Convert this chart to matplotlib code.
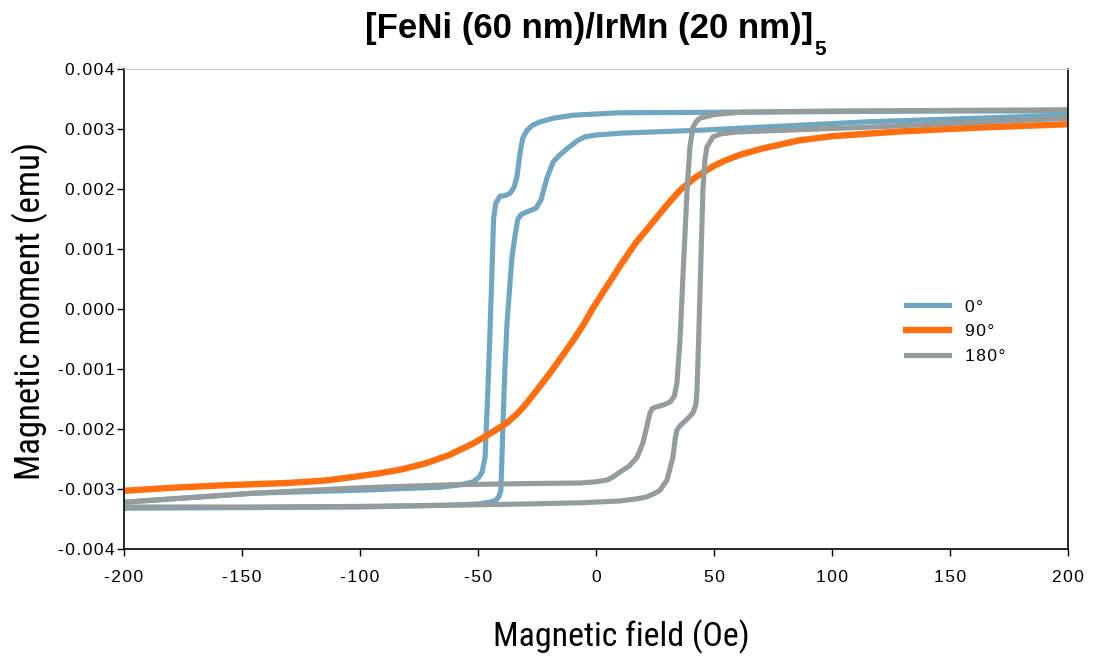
import matplotlib
matplotlib.use("Agg")
import matplotlib.pyplot as plt
from matplotlib import font_manager
from matplotlib.font_manager import FontProperties
from matplotlib.ticker import FuncFormatter

# 0 deg loop: descending branch (+200 -> -200) and ascending branch (-200 -> +200)
h_0_down = [200, 150, 100, 58, 10, -9.7, -18, -23.7, -27, -29.2, -31, -32.2, -33.5, -34.7,
            -36.4, -38.5, -40.7, -42.5, -43.4, -44.1, -44.9, -45.8, -47.0, -48.3, -49.5,
            -52, -57.6, -66, -100, -145, -200]
m_0_down = [0.00330, 0.00330, 0.00329, 0.00328, 0.00327, 0.00323, 0.00318, 0.00312, 0.00306,
            0.00298, 0.00285, 0.00260, 0.00220, 0.00203, 0.00193, 0.00189, 0.00188, 0.00176,
            0.00150, 0.00060, -0.00035, -0.00135, -0.00247, -0.00272, -0.00280, -0.00288,
            -0.00293, -0.00297, -0.00302, -0.00307, -0.00322]
h_0_up = [-200, -150, -100, -62, -50, -45, -42.5, -41.2, -40.3, -39.4, -38.6, -37.7, -35.6,
          -34.2, -33.1, -31.5, -29.2, -25.4, -23.3, -20.8, -18.2, -15.3, -12, -8.1, -4.7, 0,
          10.2, 44, 115, 200]
m_0_up = [-0.00332, -0.00331, -0.00330, -0.00327, -0.00325, -0.00322, -0.00319, -0.00313,
          -0.00302, -0.00190, -0.00100, -0.00023, 0.00087, 0.00125, 0.00150, 0.00158, 0.00162,
          0.00168, 0.00182, 0.00218, 0.00245, 0.00257, 0.00268, 0.00280, 0.00287, 0.00290,
          0.00293, 0.00298, 0.00312, 0.00323]

# 90 deg: no hysteresis, single curve
h_90 = [-200, -180, -159, -131, -115, -103, -92, -82, -72, -62, -52, -45, -37.8, -33, -29.4,
        -25, -19.5, -15, -9.6, -5, -1.5, 3, 7.3, 10.2, 14, 17.2, 21.5, 26, 30, 35.6, 42, 49.7,
        55, 61, 70, 86, 100, 129, 160, 200]
m_90 = [-0.00303, -0.00298, -0.00294, -0.00290, -0.00286, -0.00280, -0.00274, -0.00267,
        -0.00257, -0.00243, -0.00224, -0.00208, -0.00190, -0.00173, -0.00157, -0.00135,
        -0.00107, -0.00082, -0.00052, -0.00024, 0.0, 0.00028, 0.00054, 0.00072, 0.00094,
        0.00112, 0.00132, 0.00154, 0.00173, 0.00198, 0.00219, 0.00238, 0.00248, 0.00257,
        0.00267, 0.00281, 0.00288, 0.00296, 0.00302, 0.00308]

# 180 deg loop
h_180_down = [200, 150, 100, 61, 50, 44, 42.4, 41.1, 39.8, 38.6, 36.9, 35.6, 34.3, 33.2, 31.4,
              28.5, 25.8, 23.8, 22.9, 19.9, 17.4, 14, 10, 7.2, 4.7, 0, -6.8, -30, -62, -100,
              -145, -200]
m_180_down = [0.00332, 0.00331, 0.00330, 0.00328, 0.00324, 0.00318, 0.00312, 0.00303, 0.00270,
              0.00198, 0.00060, -0.00052, -0.00123, -0.00145, -0.00155, -0.00160, -0.00163,
              -0.00166, -0.00173, -0.00223, -0.00247, -0.00262, -0.00272, -0.00280, -0.00285,
              -0.00288, -0.00290, -0.00291, -0.00293, -0.00298, -0.00307, -0.00322]
h_180_up = [-200, -150, -100, -62, -30, -6.8, 10, 18, 21.6, 25, 27.1, 30.1, 32.6, 33.6, 34.3,
            35.5, 36.9, 39, 41.1, 42.3, 42.8, 43.5, 44.1, 45.3, 46.2, 47, 49.6, 53, 59.7, 115, 200]
m_180_up = [-0.00330, -0.00330, -0.00329, -0.00327, -0.00325, -0.00323, -0.00320, -0.00316,
            -0.00313, -0.00307, -0.00302, -0.00285, -0.00247, -0.00215, -0.00202, -0.00195,
            -0.00190, -0.00182, -0.00173, -0.00160, -0.00135, -0.00050, 0.00032, 0.00198,
            0.00250, 0.00270, 0.00287, 0.00292, 0.00295, 0.00303, 0.00318]

x_ticks = [-200, -150, -100, -50, 0, 50, 100, 150, 200]
y_ticks = [-0.004, -0.003, -0.002, -0.001, 0.0, 0.001, 0.002, 0.003, 0.004]
labels = ["0°", "90°", "180°"]
colors = ["#6fa6c1", "#ff6f0f", "#939d9d"]


def condensed_font(size):
    # look for any narrow / condensed regular face; fall back to a smaller plain face
    prefs = ["liberationsansnarrow-regular", "robotocondensed-regular", "dejavusanscondensed.ttf",
             "notosans-condensed", "opensans-condensed"]
    files = [f.fname for f in font_manager.fontManager.ttflist]
    for p in prefs:
        for fn in files:
            if p in fn.lower().replace(" ", "").replace("_", "-"):
                return FontProperties(fname=fn, size=size)
    return FontProperties(family="Liberation Sans", size=size * 0.83)


plt.rcParams["font.family"] = ["Liberation Sans", "DejaVu Sans"]
plt.rcParams["axes.unicode_minus"] = False

fig = plt.figure(figsize=(11.01, 6.58), dpi=100)
ax = fig.add_axes([124 / 1101, 1 - 549 / 658, 944 / 1101, 480 / 658])

lw = 3.7
ax.plot(h_0_down, m_0_down, color=colors[0], lw=lw, solid_joinstyle="round", label=labels[0])
ax.plot(h_0_up, m_0_up, color=colors[0], lw=lw, solid_joinstyle="round")
ax.plot(h_90, m_90, color=colors[1], lw=4.6, solid_joinstyle="round", label=labels[1])
ax.plot(h_180_down, m_180_down, color=colors[2], lw=lw, solid_joinstyle="round", label=labels[2])
ax.plot(h_180_up, m_180_up, color=colors[2], lw=lw, solid_joinstyle="round")

ax.set_xlim(-200, 200)
ax.set_ylim(-0.004, 0.004)
ax.set_xticks(x_ticks)
ax.set_yticks(y_ticks)

spaced = lambda s: "\u200a".join(s)
ax.xaxis.set_major_formatter(FuncFormatter(lambda v, p: spaced("%d" % v)))
ax.yaxis.set_major_formatter(FuncFormatter(lambda v, p: spaced("%.3f" % v)))
ax.tick_params(axis="both", direction="out", length=5, width=1, labelsize=12.5, color="black")
ax.tick_params(axis="x", pad=10)
ax.tick_params(axis="y", pad=2)

for s in ("left", "bottom", "right"):
    ax.spines[s].set_linewidth(1.2)
    ax.spines[s].set_color("black")
ax.spines["top"].set_color("#d0d0d0")
ax.spines["top"].set_linewidth(0.8)

ax.set_xlabel("Magnetic field (Oe)", fontproperties=condensed_font(24.4))
ax.set_ylabel("Magnetic moment (emu)", fontproperties=condensed_font(25))
ax.xaxis.set_label_coords(497 / 944, -70 / 480)
ax.yaxis.set_label_coords(-76 / 944, 0.495)

title = fig.text(589 / 1101, 1 - 38 / 658, "[FeNi (60 nm)/IrMn (20 nm)]", ha="center",
                 va="baseline", fontsize=25, fontweight="bold")
ax.annotate("5", xy=(1, 0), xycoords=title, xytext=(1, -10), textcoords="offset points",
            ha="left", va="bottom", fontsize=15, fontweight="bold")

leg = ax.legend(loc="upper left", bbox_to_anchor=(0.828, 0.52), frameon=False, fontsize=12.5,
                handlelength=2.5, handletextpad=0.9, labelspacing=0.56, borderpad=0,
                borderaxespad=0)
for t in leg.get_texts():
    t.set_text(spaced(t.get_text()))

fig.savefig("out.png", dpi=100)
